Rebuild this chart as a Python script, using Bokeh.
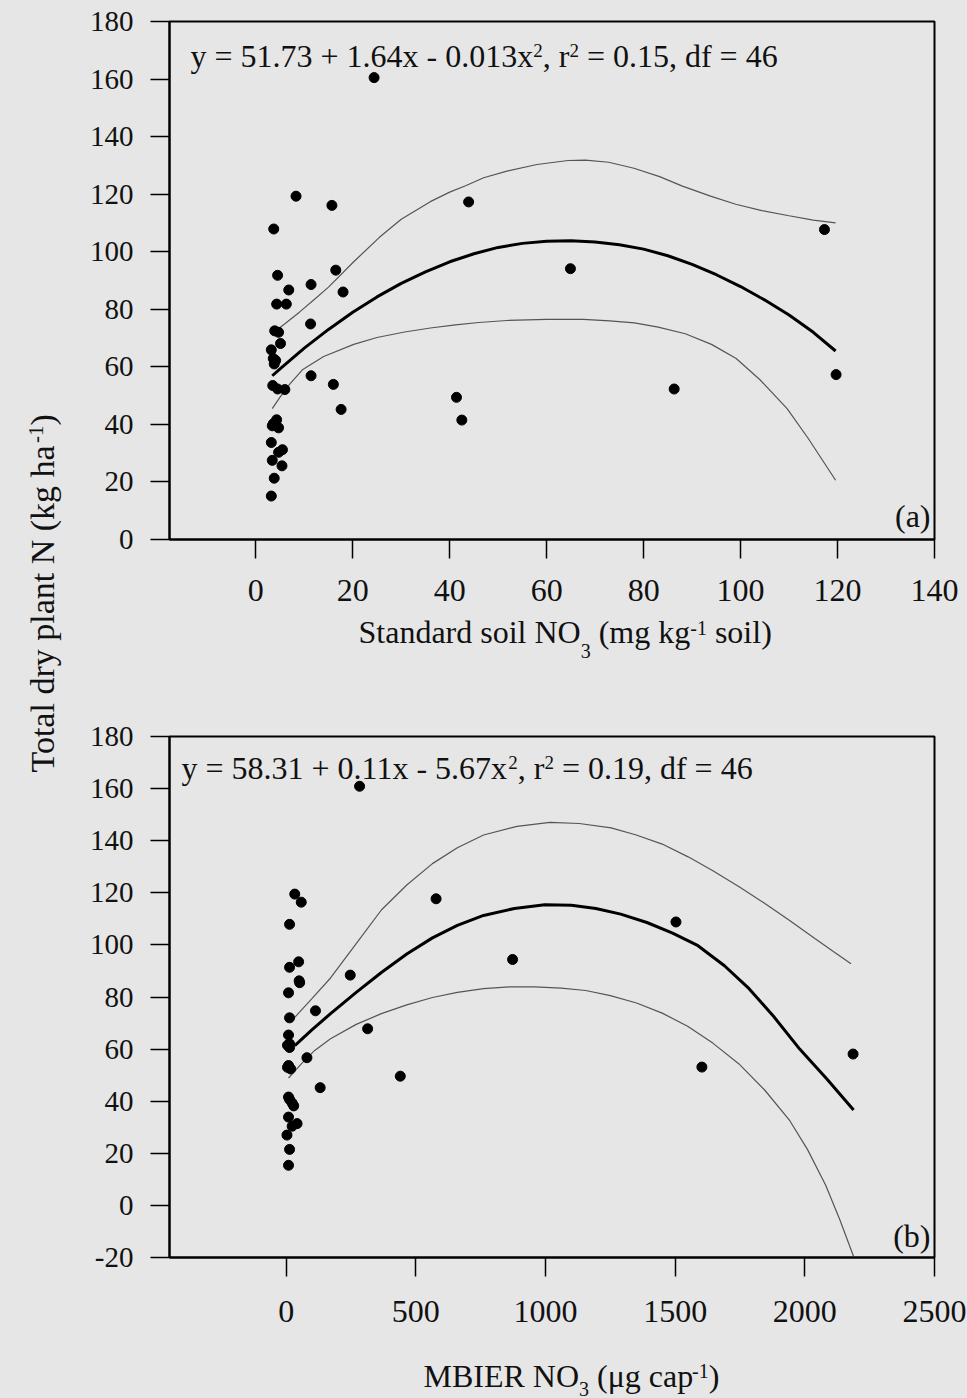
import math
from bokeh.plotting import figure
from bokeh.layouts import row, column
from bokeh.models import FixedTicker, Range1d
from bokeh.core.properties import value
from bokeh.embed import file_html
from bokeh.resources import INLINE

# ---------------- data ----------------
# panel (a): standard soil NO3 (mg/kg) vs total dry plant N (kg/ha)
a_soil_no3 = [24.4, 8.3, 15.7, 43.9, 117.3, 3.7, 4.5, 16.5, 64.9, 11.4, 6.8, 18.0, 4.3,
              6.3, 11.3, 3.9, 4.7, 5.1, 3.2, 3.6, 4.1, 3.8, 11.4, 119.7, 16.0, 3.5, 4.5,
              6.0, 86.3, 41.4, 17.6, 42.5, 4.3, 3.6, 4.7, 3.4, 3.2, 5.5, 4.7, 3.4, 5.4,
              3.8, 3.2]
a_plant_n = [160.5, 119.3, 116.1, 117.3, 107.7, 107.9, 91.8, 93.6, 94.1, 88.6, 86.7, 86.0,
             81.8, 81.8, 74.9, 72.5, 72.0, 68.1, 65.9, 62.9, 62.2, 61.0, 56.9, 57.3, 53.9,
             53.5, 52.3, 52.1, 52.3, 49.4, 45.2, 41.5, 41.6, 40.2, 38.8, 39.5, 33.7, 31.2,
             30.3, 27.5, 25.6, 21.3, 15.1]
a_fit_x = [3.4, 5, 10, 15, 20, 25, 30, 35, 40, 45, 50, 55, 60, 65, 70, 75, 80, 85, 90, 95,
           100, 105, 110, 115, 119.6]
a_fit_y = [56.9, 59.3, 66.5, 73.0, 79.0, 84.3, 89.0, 93.0, 96.5, 99.3, 101.5, 102.9, 103.6,
           103.8, 103.4, 102.4, 100.9, 98.6, 95.6, 92.0, 87.9, 83.2, 78.0, 72.0, 65.5]
a_upper_x = [3.4, 6, 9, 12, 15, 20.2, 25.5, 30, 36, 40, 43.4, 47, 51.8, 58, 64.4, 68, 72.8,
             78, 83.3, 88, 93.8, 99, 104.4, 110, 115, 119.6]
a_upper_y = [71.6, 75.0, 79.0, 83.3, 87.7, 96.5, 105.0, 111.3, 117.4, 120.7, 123.0, 125.7,
             128.0, 130.3, 131.7, 131.8, 131.1, 129.0, 126.1, 122.8, 119.3, 116.5, 114.3,
             112.5, 111.0, 110.0]
a_lower_x = [3.4, 5, 7, 9.7, 14, 20.2, 25, 30.7, 36, 41.2, 46, 51.8, 60, 67.6, 73, 78.1,
             83, 88.6, 94, 99.1, 104, 109.6, 114, 119.6]
a_lower_y = [45.5, 49.5, 54.0, 59.1, 63.6, 67.8, 70.2, 72.1, 73.5, 74.6, 75.4, 76.1, 76.5,
             76.5, 76.0, 75.3, 73.8, 71.5, 67.8, 62.9, 55.5, 45.5, 35.0, 20.6]
a_xticks = [0, 20, 40, 60, 80, 100, 120, 140]
a_yticks = [0, 20, 40, 60, 80, 100, 120, 140, 160, 180]

# panel (b): MBIER NO3 (ug/cap) vs total dry plant N (kg/ha)
b_mbier_no3 = [283, 33, 58, 578, 1503, 13, 48, 13, 873, 50, 52, 247, 9, 113, 13, 314, 9,
               13, 13, 5, 80, 2186, 9, 17, 5, 1603, 440, 131, 9, 13, 23, 29, 9, 42, 23, 3,
               13, 9]
b_plant_n = [160.9, 119.5, 116.4, 117.7, 108.8, 107.9, 93.5, 91.4, 94.4, 86.2, 85.5, 88.4,
             81.6, 74.7, 72.0, 67.8, 65.4, 62.0, 60.6, 61.5, 56.7, 58.1, 53.7, 52.4, 53.0,
             53.1, 49.6, 45.2, 41.6, 40.7, 39.3, 38.2, 33.9, 31.4, 30.4, 27.0, 21.5, 15.4]
b_fit_x = [33, 100, 171, 270, 367, 465, 564, 660, 761, 880, 997, 1100, 1194, 1290, 1391,
           1490, 1588, 1690, 1785, 1880, 1981, 2085, 2188]
b_fit_y = [61.3, 67.5, 73.6, 81.8, 89.4, 96.5, 102.7, 107.5, 111.3, 114.0, 115.4, 115.2,
           114.0, 111.8, 108.6, 104.5, 99.7, 92.0, 83.2, 72.5, 59.9, 48.5, 36.6]
b_upper_x = [33, 100, 171, 270, 367, 465, 564, 660, 761, 890, 1017, 1130, 1253, 1350, 1450,
             1550, 1647, 1745, 1843, 1940, 2040, 2110, 2178]
b_upper_y = [72.2, 79.5, 87.3, 100.5, 113.4, 123.0, 131.2, 137.3, 142.2, 145.5, 147.0, 146.6,
             144.9, 142.2, 138.7, 133.8, 128.4, 122.4, 116.1, 109.5, 102.4, 97.5, 92.8]
b_lower_x = [9, 60, 110, 171, 270, 367, 465, 564, 660, 761, 860, 958, 1060, 1155, 1250,
             1351, 1450, 1548, 1645, 1745, 1845, 1942, 2010, 2080, 2135, 2188]
b_lower_y = [48.9, 54.5, 59.5, 64.0, 69.5, 73.6, 77.0, 79.8, 81.8, 83.2, 83.9, 83.9, 83.4,
             82.5, 80.5, 77.7, 73.8, 68.8, 62.3, 54.4, 44.3, 32.5, 21.5, 7.8, -5.5, -19.6]
b_xticks = [0, 500, 1000, 1500, 2000, 2500]
b_yticks = [-20, 0, 20, 40, 60, 80, 100, 120, 140, 160, 180]

eq_a = [("y = 51.73 + 1.64x - 0.013x", "n"), ("2", "sup"), (", r", "n"), ("2", "sup"),
        (" = 0.15, df = 46", "n")]
eq_b = [("y = 58.31 + 0.11x - 5.67x", "n"), ("2", "sup"), (", r", "n"), ("2", "sup"),
        (" = 0.19, df = 46", "n")]
xlabel_a = [("Standard soil NO", "n"), ("3", "sub"), (" (mg kg", "n"), ("-1", "sup"), (" soil)", "n")]
xlabel_b = [("MBIER NO", "n"), ("3", "sub"), (" (\u03bcg cap", "n"), ("-1", "sup"), (")", "n")]
ylabel = [("Total dry plant N (kg ha", "n"), ("-1", "sup"), (")", "n")]

# ---------------- styling / layout ----------------
BG = "#e6e6e6"
INK = "#111111"
FONT = "Liberation Serif"
PAGE_W, PAGE_H = 967, 1398
LABEL_W = 70
PANEL_W = PAGE_W - LABEL_W
FL, FR = 169, 934          # shared frame left/right (page px)
SA = (0, 615)
STA = (615, 700)
SB = (700, 1335)
STB = (1335, 1398)
BASE_FIX = 0.35            # em shift so that text sits on the requested baseline

W = {' ': 250, '(': 333, ')': 333, ',': 250, '.': 250, '-': 333, '=': 564, '+': 564,
     'a': 444, 'c': 444, 'd': 500, 'e': 444, 'f': 333, 'g': 500, 'h': 500, 'i': 278,
     'k': 500, 'l': 278, 'm': 778, 'n': 500, 'o': 500, 'p': 500, 'r': 333, 's': 389,
     't': 278, 'x': 500, 'y': 500, 'B': 667, 'E': 611, 'I': 333, 'M': 889, 'N': 722,
     'O': 722, 'R': 667, 'S': 556, 'T': 611, '\u03bc': 500}


def tw(s, size):
    return sum(W.get(c, 500) for c in s) / 1000.0 * size


def put(p, x, y, txt, size, align="left", angle=0.0):
    p.text(x=[x], y=[y], text=[txt], text_font=value(FONT), text_font_size=value(f"{size}px"),
           text_color=INK, text_align=align, text_baseline="alphabetic", angle=angle)


def make_panel(sl, xr, yr, T, B, xticks, yticks, x_standoff):
    top, bot = sl
    p = figure(width=PANEL_W, height=bot - top, x_range=Range1d(*xr), y_range=Range1d(*yr),
               output_backend="svg", toolbar_location=None,
               min_border_left=FL - LABEL_W, min_border_right=PAGE_W - FR,
               min_border_top=T - top, min_border_bottom=bot - B)
    p.background_fill_color = BG
    p.border_fill_color = BG
    p.outline_line_color = "black"
    p.outline_line_width = 2
    p.grid.visible = False
    for ax in p.axis:
        ax.axis_line_width = 2
        ax.axis_line_color = "black"
        ax.major_tick_in = 0
        ax.major_tick_out = 19
        ax.major_tick_line_width = 1.5
        ax.major_tick_line_color = "black"
        ax.minor_tick_in = 0
        ax.minor_tick_out = 0
        ax.major_label_text_font = FONT
        ax.major_label_text_color = INK
    p.xaxis.ticker = FixedTicker(ticks=xticks)
    p.yaxis.ticker = FixedTicker(ticks=yticks)
    p.yaxis.major_label_overrides = {t: str(t) for t in yticks}
    p.xaxis.major_label_overrides = {t: str(t) for t in xticks}
    p.xaxis.major_label_text_font_size = "32px"
    p.xaxis.major_label_standoff = x_standoff
    p.yaxis.major_label_text_font_size = "29px"
    p.yaxis.major_label_standoff = 17

    def to_data(px, py):
        x = xr[0] + (px - FL) / (FR - FL) * (xr[1] - xr[0])
        y = yr[0] + (B - py) / (B - T) * (yr[1] - yr[0])
        return x, y
    return p, to_data


def make_canvas(width, sl, left, right, mb_left, mb_right):
    """Axis-less strip whose data coordinates equal page pixels."""
    top, bot = sl
    p = figure(width=width, height=bot - top, x_range=Range1d(left, right),
               y_range=Range1d(bot, top), output_backend="svg", toolbar_location=None,
               x_axis_location=None, y_axis_location=None, min_border=0,
               min_border_left=mb_left, min_border_right=mb_right,
               min_border_top=0, min_border_bottom=0)
    p.background_fill_color = BG
    p.border_fill_color = BG
    p.outline_line_color = None
    p.grid.visible = False
    return p


def rich_h(p, to_data, x0, base, segs, size, small, up, down):
    pos = x0
    for txt, kind in segs:
        fs = size if kind == "n" else small
        off = 0 if kind == "n" else (up if kind == "sup" else -down)
        lead = len(txt) - len(txt.lstrip(" "))
        x, y = to_data(pos + tw(" " * lead, fs), base - off - BASE_FIX * fs)
        put(p, x, y, txt.strip(" "), fs)
        pos += tw(txt, fs)


def rich_v(p, base_x, y0, segs, size, small, up):
    pos = y0  # page y, text runs upward
    for txt, kind in segs:
        fs = size if kind == "n" else small
        off = up if kind == "sup" else 0
        lead = len(txt) - len(txt.lstrip(" "))
        put(p, base_x - off - BASE_FIX * fs, pos - tw(" " * lead, fs), txt.strip(" "), fs,
            angle=math.pi / 2)
        pos -= tw(txt, fs)


ident = lambda px, py: (px, py)

# ---------------- panel (a) ----------------
pa, da = make_panel(SA, (-17.8, 140), (0, 180), 21, 539, a_xticks, a_yticks, 21)
pa.line(a_upper_x, a_upper_y, line_width=1.2, line_color="#555555")
pa.line(a_lower_x, a_lower_y, line_width=1.2, line_color="#555555")
pa.line(a_fit_x, a_fit_y, line_width=3, line_color="black")
pa.scatter(a_soil_no3, a_plant_n, marker="circle", size=10, color="black")
rich_h(pa, da, 190, 67, eq_a, 32, 19, 10, 0)
xa, ya = da(930, 527 - BASE_FIX * 32)
put(pa, xa, ya, "(a)", 32, align="right")

ta = make_canvas(PANEL_W, STA, FL, FR, FL - LABEL_W, PAGE_W - FR)
rich_h(ta, ident, 358, 643, xlabel_a, 32, 20, 9, 14)

# ---------------- panel (b) ----------------
pb, db = make_panel(SB, (-450, 2500), (-20, 180), 736, 1257, b_xticks, b_yticks, 24)
pb.line(b_upper_x, b_upper_y, line_width=1.2, line_color="#555555")
pb.line(b_lower_x, b_lower_y, line_width=1.2, line_color="#555555")
pb.line(b_fit_x, b_fit_y, line_width=3, line_color="black")
pb.scatter(b_mbier_no3, b_plant_n, marker="circle", size=10, color="black")
rich_h(pb, db, 181, 779, eq_b, 32, 19, 10, 0)
xb, yb = db(930, 1247 - BASE_FIX * 32)
put(pb, xb, yb, "(b)", 32, align="right")

tb = make_canvas(PANEL_W, STB, FL, FR, FL - LABEL_W, PAGE_W - FR)
rich_h(tb, ident, 423, 1387, xlabel_b, 32, 20, 10, 8)

# ---------------- shared y label ----------------
pl = make_canvas(LABEL_W, (0, PAGE_H), 0, LABEL_W, 0, 0)
rich_v(pl, 53.5, 772, ylabel, 34, 21, 11)

right = column(pa, ta, pb, tb, spacing=0, styles={"background-color": BG})
layout = row(pl, right, spacing=0, styles={"background-color": BG})
open("out.html", "w").write(file_html(layout, INLINE))
